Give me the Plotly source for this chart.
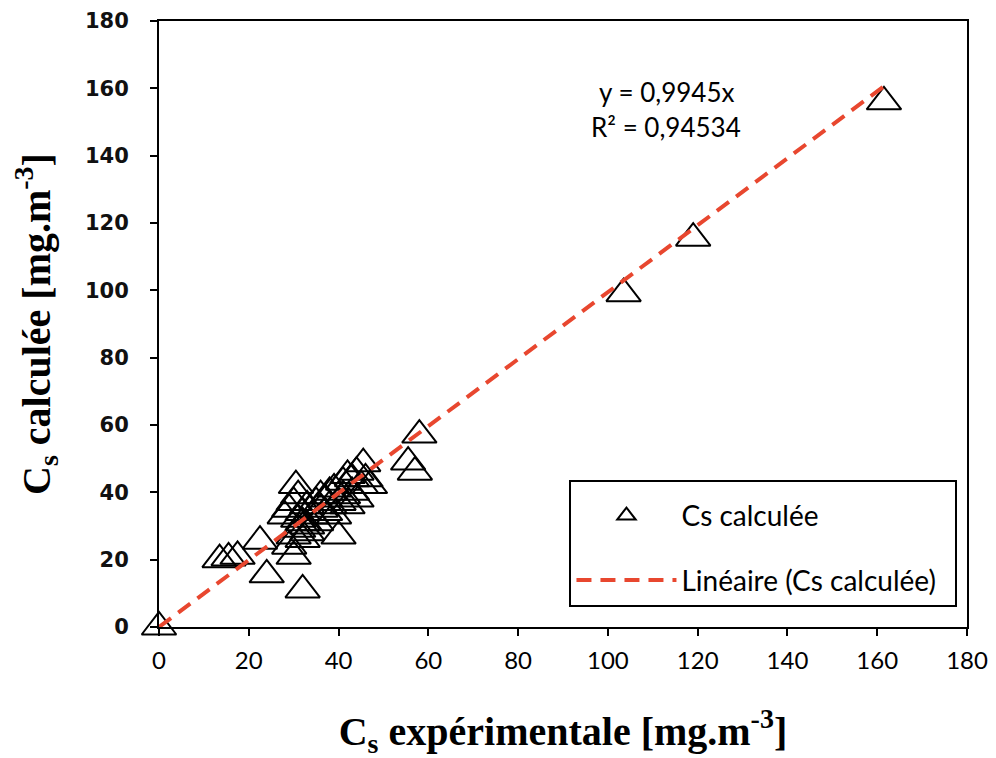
import plotly.graph_objects as go

cs_exp = [0,
          13.5, 15.5, 17.5, 22.5, 24, 32, 30,
          29, 30, 31, 32, 33,
          28, 29, 30, 30.5, 31, 31, 32, 32, 33, 33,
          34, 35, 35, 36, 36, 37, 37, 38, 38, 39, 39,
          40, 40, 41, 41, 42, 42, 43, 43, 44, 44, 45, 45.5, 47, 46,
          55.5, 57, 58,
          103.5, 119, 161.5]
cs_calc = [0,
           20, 20.5, 21, 25.5, 15.5, 11, 21,
           24, 27, 29, 26, 28,
           33, 35, 37, 42, 39, 32, 34, 31, 36, 30,
           33, 37, 31, 35, 39, 34, 38, 40, 36, 41, 33,
           27, 37, 43, 39, 45, 36, 40, 44, 38, 46, 42, 48.5, 42, 44,
           49, 46, 57,
           99, 115.5, 156]

slope = 0.9945
eq_text = "y = 0,9945x"
r2_text = "R² = 0,94534"
trend_x = [0, max(cs_exp)]
trend_y = [slope * v for v in trend_x]

x_ticks = list(range(0, 181, 20))
y_ticks = list(range(0, 181, 20))

fig = go.Figure()
fig.add_trace(go.Scatter(
    x=cs_exp, y=cs_calc, mode="markers", name="Cs calculée",
    legendgroup="a",
    marker=dict(symbol="triangle-up-open", size=30, color="black",
                line=dict(color="black", width=2)),
    cliponaxis=False,
))
fig.add_trace(go.Scatter(
    x=trend_x, y=trend_y, mode="lines",
    name="Linéaire (Cs calculée)&nbsp;&nbsp;",
    legendgroup="b",
    line=dict(color="#E8472F", width=4, dash="15px,9px"),
))

fig.add_annotation(x=113, y=159, xref="x", yref="y", text=eq_text, showarrow=False,
                   font=dict(family="Lato", size=26, color="black"))
fig.add_annotation(x=113, y=148.5, xref="x", yref="y", text=r2_text, showarrow=False,
                   font=dict(family="Lato", size=26, color="black"))

fig.update_layout(
    width=996, height=758,
    paper_bgcolor="white", plot_bgcolor="white",
    margin=dict(l=151, r=37, t=13, b=139),
    showlegend=True,
    legend=dict(x=0.508, y=0.243, xanchor="left", yanchor="top",
                bordercolor="black", borderwidth=2, bgcolor="white",
                font=dict(family="Lato", size=28, color="black"),
                title=dict(text=" ", font=dict(size=7)),
                tracegroupgap=25, itemwidth=100),
    xaxis=dict(range=[0, 180], tickvals=x_ticks, ticks="outside", ticklen=7,
               tickwidth=2, tickcolor="black", showline=True, linecolor="black",
               linewidth=2, mirror=True, showgrid=False, zeroline=False,
               automargin=False, ticklabelstandoff=4,
               tickfont=dict(family="Lato", size=24, color="black"),
               title=dict(text="C<sub>s</sub> expérimentale [mg.m<sup>-3</sup>]",
                          font=dict(family="Liberation Serif", size=40, color="black", weight="bold"),
                          standoff=44)),
    yaxis=dict(range=[0, 180], tickvals=y_ticks, ticks="outside", ticklen=7,
               tickwidth=2, tickcolor="black", showline=True, linecolor="black",
               linewidth=2, mirror=True, showgrid=False, zeroline=False,
               automargin=False, ticklabelstandoff=17,
               tickfont=dict(family="DejaVu Sans", size=21, color="#111", weight="bold"),
               title=dict(text="C<sub>s</sub> calculée [mg.m<sup>-3</sup>]",
                          font=dict(family="Liberation Serif", size=40, color="black", weight="bold"),
                          standoff=22)),
)

fig.write_html("out.html")
